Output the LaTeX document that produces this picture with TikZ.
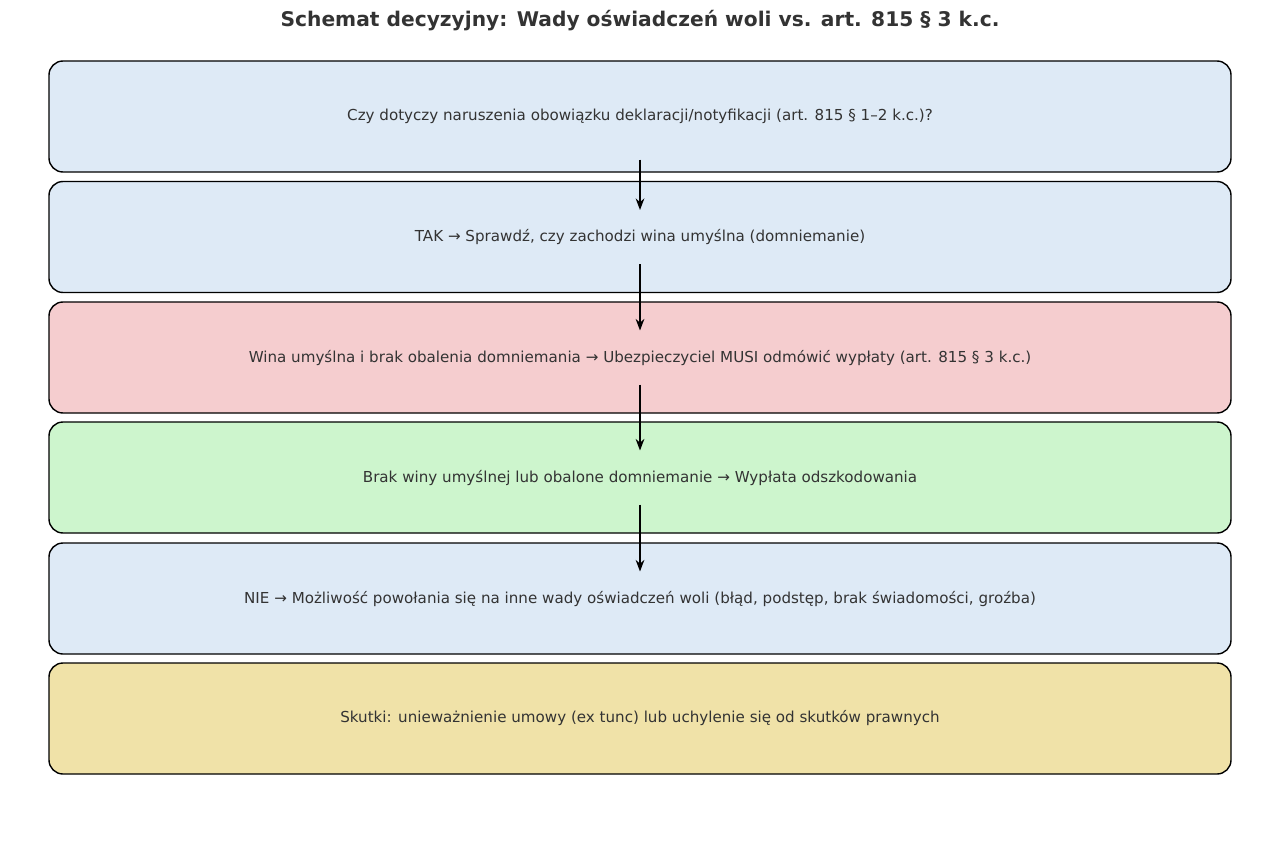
\documentclass[tikz,border=0pt]{standalone}
\usepackage{fontspec}
\setmainfont{DejaVu Sans}
\usetikzlibrary{arrows.meta}
\definecolor{askblue}{HTML}{DEEAF6}
\definecolor{denyred}{HTML}{F5CDCF}
\definecolor{paygreen}{HTML}{CDF5CD}
\definecolor{effyellow}{HTML}{F0E2A8}
\definecolor{inktext}{HTML}{333333}
\tikzset{>=Stealth}
\tikzset{%
    stepbox/.style={%
        draw=black, thick, rounded corners=0.28cm,
        minimum width=23.64cm, minimum height=2.22cm,
        text=inktext, font=\fontsize{8.6}{10}\selectfont
    },
    flow/.style={->, thick}
}
\begin{document}
\begin{tikzpicture}
    \useasboundingbox (0,0) rectangle (25.6,-17);
    \node[text=inktext,font=\fontsize{11.5}{13}\selectfont\bfseries] (title) at (12.8,-0.42)
        {Schemat decyzyjny: Wady oświadczeń woli vs. art. 815 § 3 k.c.};

    \node[stepbox,fill=askblue] (q1) at (12.8,-2.33)
        {Czy dotyczy naruszenia obowiązku deklaracji/notyfikacji (art. 815 § 1–2 k.c.)?};
    \node[stepbox,fill=askblue] (q2) at (12.8,-4.74)
        {TAK → Sprawdź, czy zachodzi wina umyślna (domniemanie)};
    \node[stepbox,fill=denyred] (q3) at (12.8,-7.15)
        {Wina umyślna i brak obalenia domniemania → Ubezpieczyciel MUSI odmówić wypłaty (art. 815 § 3 k.c.)};
    \node[stepbox,fill=paygreen] (q4) at (12.8,-9.55)
        {Brak winy umyślnej lub obalone domniemanie → Wypłata odszkodowania};
    \node[stepbox,fill=askblue] (q5) at (12.8,-11.97)
        {NIE → Możliwość powołania się na inne wady oświadczeń woli (błąd, podstęp, brak świadomości, groźba)};
    \node[stepbox,fill=effyellow] (q6) at (12.8,-14.37)
        {Skutki: unieważnienie umowy (ex tunc) lub uchylenie się od skutków prawnych};

    % arrows start below the text and end above the next text
    \coordinate (s1) at ([yshift=-0.86cm]q1.center);
    \coordinate (e1) at ([yshift=0.54cm]q2.center);
    \coordinate (s2) at ([yshift=-0.54cm]q2.center);
    \coordinate (e2) at ([yshift=0.54cm]q3.center);
    \coordinate (s3) at ([yshift=-0.54cm]q3.center);
    \coordinate (e3) at ([yshift=0.54cm]q4.center);
    \coordinate (s4) at ([yshift=-0.54cm]q4.center);
    \coordinate (e4) at ([yshift=0.54cm]q5.center);
    \foreach \i in {1,...,4}
        \draw[flow] (s\i) -- (e\i);
\end{tikzpicture}
\end{document}
